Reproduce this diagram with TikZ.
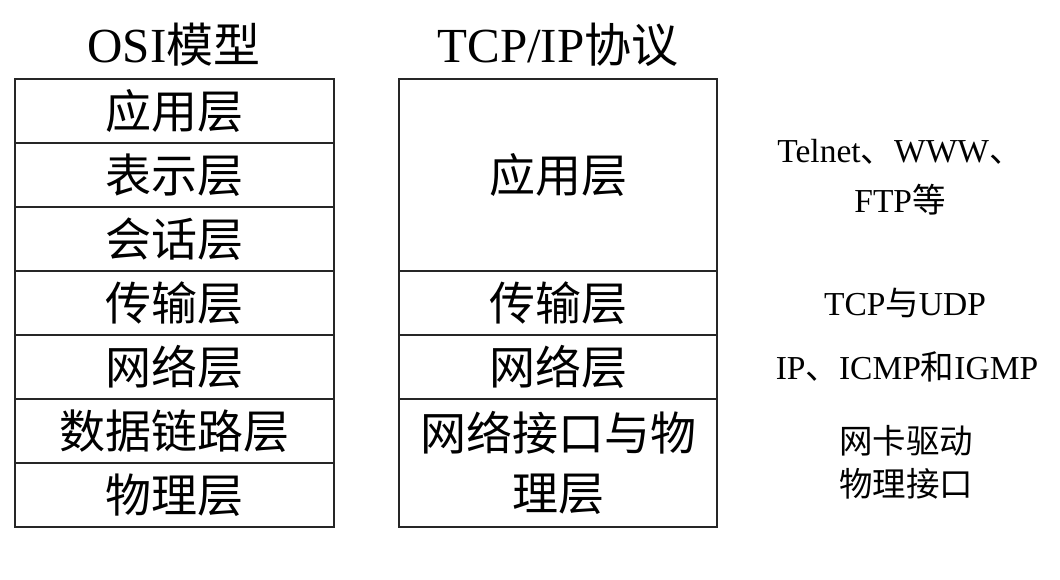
\documentclass[tikz,border=0pt]{standalone}
\usepackage{fontspec}
\setmainfont{Liberation Serif}
\newfontfamily\cjk{Noto Sans CJK SC}
\newcommand{\C}[1]{{\cjk #1}}
\begin{document}
\begin{tikzpicture}[x=1pt,y=-1pt,
  cell/.style={draw=black!85,line width=1.3pt,inner sep=0pt,outer sep=0pt,anchor=north west,align=center,
    font=\fontsize{46}{60}\selectfont},
  title/.style={inner sep=0pt,font=\fontsize{49}{52}\selectfont},
  side/.style={inner sep=0pt,align=center,font=\fontsize{33.5}{50}\selectfont}]
\useasboundingbox (0,0) rectangle (1060,580);
% OSI column
\node[title] (t1) at (174,45) {OSI{\fontsize{47}{52}\selectfont\C{模型}}};
\node[cell,minimum width=319pt,minimum height=64pt] (o1) at (15,79) {\C{应用层}};
\node[cell,minimum width=319pt,minimum height=64pt] (o2) at (15,143) {\C{表示层}};
\node[cell,minimum width=319pt,minimum height=64pt] (o3) at (15,207) {\C{会话层}};
\node[cell,minimum width=319pt,minimum height=64pt] (o4) at (15,271) {\C{传输层}};
\node[cell,minimum width=319pt,minimum height=64pt] (o5) at (15,335) {\C{网络层}};
\node[cell,minimum width=319pt,minimum height=64pt] (o6) at (15,399) {\C{数据链路层}};
\node[cell,minimum width=319pt,minimum height=64pt] (o7) at (15,463) {\C{物理层}};
% TCP/IP column
\node[title] (t2) at (558,45) {TCP/IP{\fontsize{47}{52}\selectfont\C{协议}}};
\node[cell,minimum width=318pt,minimum height=192pt] (p1) at (399,79) {\C{应用层}};
\node[cell,minimum width=318pt,minimum height=64pt] (p2) at (399,271) {\C{传输层}};
\node[cell,minimum width=318pt,minimum height=64pt] (p3) at (399,335) {\C{网络层}};
\node[cell,minimum width=318pt,minimum height=128pt] (p4) at (399,399) {\C{网络接口与物}\\\C{理层}};
% side labels
\node[side] (s1) at (900,177) {Telnet\C{、}WWW\C{、}\\FTP\C{等}};
\node[side] (s2) at (905,303) {TCP\C{与}UDP};
\node[side] (s3) at (907,367) {IP\C{、}ICMP\C{和}IGMP};
\node[side,font=\fontsize{33.5}{43}\selectfont] (s4) at (906,462) {\C{网卡驱动}\\\C{物理接口}};
\end{tikzpicture}
\end{document}
